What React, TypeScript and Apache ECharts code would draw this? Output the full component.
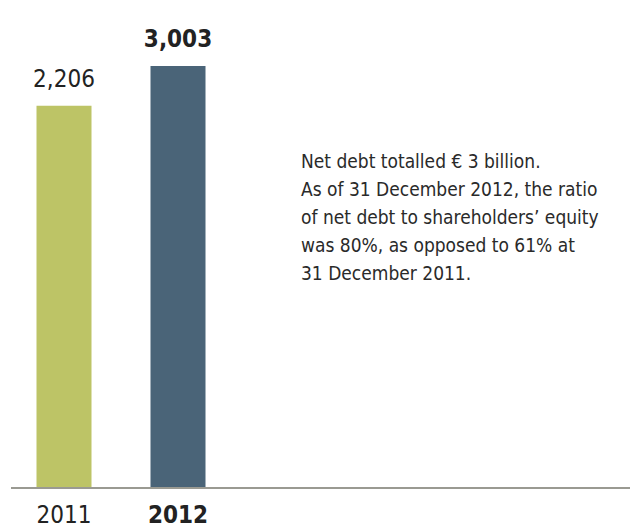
import React, { useEffect, useRef } from "react";
import * as echarts from "echarts";

const categories = ["2011", "2012"];
const netDebt = [2206, 3003];
const valueLabels = ["2,206", "3,003"];
const noteLines = [
  "Net debt totalled \u20ac 3 billion.",
  "As of 31 December 2012, the ratio",
  "of net debt to shareholders\u2019 equity",
  "was 80%, as opposed to 61% at",
  "31 December 2011.",
];
const barColors = ["#bdc466", "#4a6478"];

const FONT = '"Liberation Sans Narrow", "Arial Narrow", "DejaVu Sans Condensed", sans-serif';
const AXIS_MIN = -5470;

export default function App() {
  const ref = useRef<HTMLDivElement>(null);
  useEffect(() => {
    if (!ref.current) return;
    const chart = echarts.init(ref.current, undefined, { renderer: "svg" });
    chart.setOption({
      animation: false,
      backgroundColor: "#ffffff",
      grid: { left: 7, width: 228, top: 66, bottom: 42, containLabel: false },
      xAxis: {
        type: "category",
        data: categories.map((c, i) => ({
          value: c,
          textStyle: { fontWeight: i === 1 ? "bold" : "normal" },
        })),
        axisLine: { show: false },
        axisTick: { show: false },
        axisLabel: {
          fontFamily: FONT,
          fontSize: 24,
          lineHeight: 24,
          color: "#222222",
          margin: 15,
        },
      },
      yAxis: {
        type: "value",
        min: AXIS_MIN,
        max: 3003,
        startValue: AXIS_MIN,
        show: false,
        splitLine: { show: false },
      },
      series: [
        {
          type: "bar",
          barWidth: 55,
          data: netDebt.map((v, i) => ({
            value: v,
            itemStyle: { color: barColors[i] },
            label: {
              show: true,
              position: "top",
              distance: 15,
              formatter: valueLabels[i],
              fontFamily: FONT,
              fontSize: 24,
              fontWeight: i === 1 ? "bold" : "normal",
              color: "#222222",
            },
          })),
        },
      ],
      graphic: [
        {
          type: "line",
          shape: { x1: 11, y1: 488, x2: 630, y2: 488 },
          style: { stroke: "#9a9a92", lineWidth: 2 },
          z: 10,
        },
        {
          type: "text",
          x: 301,
          y: 147,
          style: {
            text: noteLines.join("\n"),
            fontFamily: FONT,
            fontSize: 19,
            lineHeight: 28,
            fill: "#2a2a2a",
            textVerticalAlign: "top",
          },
        },
      ],
    });
    return () => chart.dispose();
  }, []);
  return (
    <div
      ref={ref}
      style={{ position: "fixed", left: 0, top: 0, width: 630, height: 530 }}
    />
  );
}
